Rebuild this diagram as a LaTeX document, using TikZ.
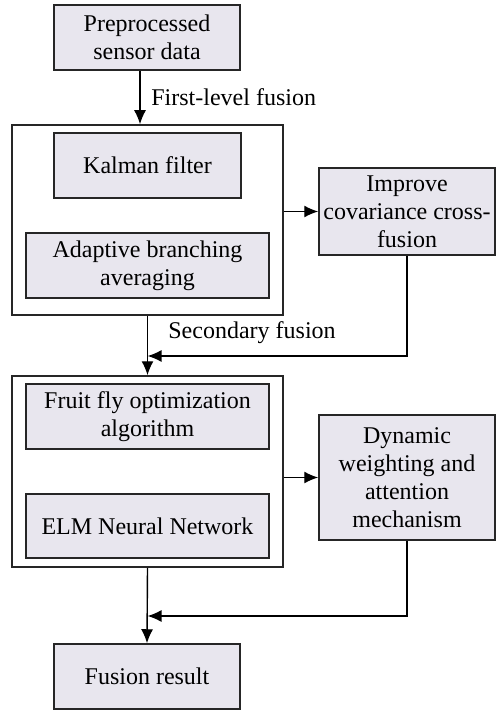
\documentclass[tikz,border=0pt]{standalone}
\usepackage{fontspec}
\setmainfont{Liberation Serif}
\usetikzlibrary{arrows.meta}
\definecolor{boxfill}{RGB}{232,230,238}
\tikzset{
  fillbox/.style={draw=black!85, fill=boxfill, line width=0.75pt, align=center,
    inner sep=1pt, font=\fontsize{12}{14}\selectfont},
  groupbox/.style={draw=black!85, line width=0.75pt},
  lbl/.style={anchor=west, inner sep=0pt, font=\fontsize{12}{14}\selectfont},
}
\begin{document}
\begin{tikzpicture}[x=0.5pt, y=-0.5pt]
      \useasboundingbox (0,0) rectangle (496,711);
      \draw
        (147.5,220) node[groupbox, minimum width=135.5pt, minimum height=95pt] (grp1){}
        (147.5,471.5) node[groupbox, minimum width=135.5pt, minimum height=95.5pt] (grp2){}
        (147,37.5) node[fillbox, minimum width=93pt, minimum height=32.5pt] (pre){Preprocessed\\sensor data}
        (147.5,165.5) node[fillbox, minimum width=93.5pt, minimum height=32.5pt] (kalman){Kalman filter}
        (147.5,265.5) node[fillbox, minimum width=121.5pt, minimum height=32.5pt] (adapt){Adaptive branching\\averaging}
        (407,211.5) node[fillbox, minimum width=88pt, minimum height=43.5pt] (improve){Improve\\covariance cross-\\fusion}
        (147.5,416.5) node[fillbox, minimum width=121.5pt, minimum height=32.5pt] (fruit){Fruit fly optimization\\algorithm}
        (147.5,526) node[fillbox, minimum width=121.5pt, minimum height=32pt] (elm){ELM Neural Network}
        (407,477.5) node[fillbox, minimum width=88pt, minimum height=62.5pt] (dyn){Dynamic\\weighting and\\attention\\mechanism}
        (147,676.5) node[fillbox, minimum width=93pt, minimum height=32.5pt] (res){Fusion result};
      \coordinate (m1) at (147.5,356);
      \coordinate (m2) at (147.5,616);
      \node[lbl] (lfirst) at (151,97) {First-level fusion};
      \node[lbl] (lsecond) at (168,333) {Secondary fusion};
      \begin{scope}[-{Latex[length=7pt,width=6pt]}, line width=0.7pt]
        \draw ([xshift=-3.5pt]pre.south) to ([xshift=-3.5pt]pre.south |- grp1.north);
        \draw (grp1.east |- improve.west) to (improve.west);
        \draw (grp1.south) to (grp2.north);
        \draw (improve.south) |- (m1);
        \draw (grp2.east |- dyn.west) to (dyn.west);
        \draw (grp2.south) to (res.north);
        \draw (dyn.south) |- (m2);
      \end{scope}
    \end{tikzpicture}
\end{document}
